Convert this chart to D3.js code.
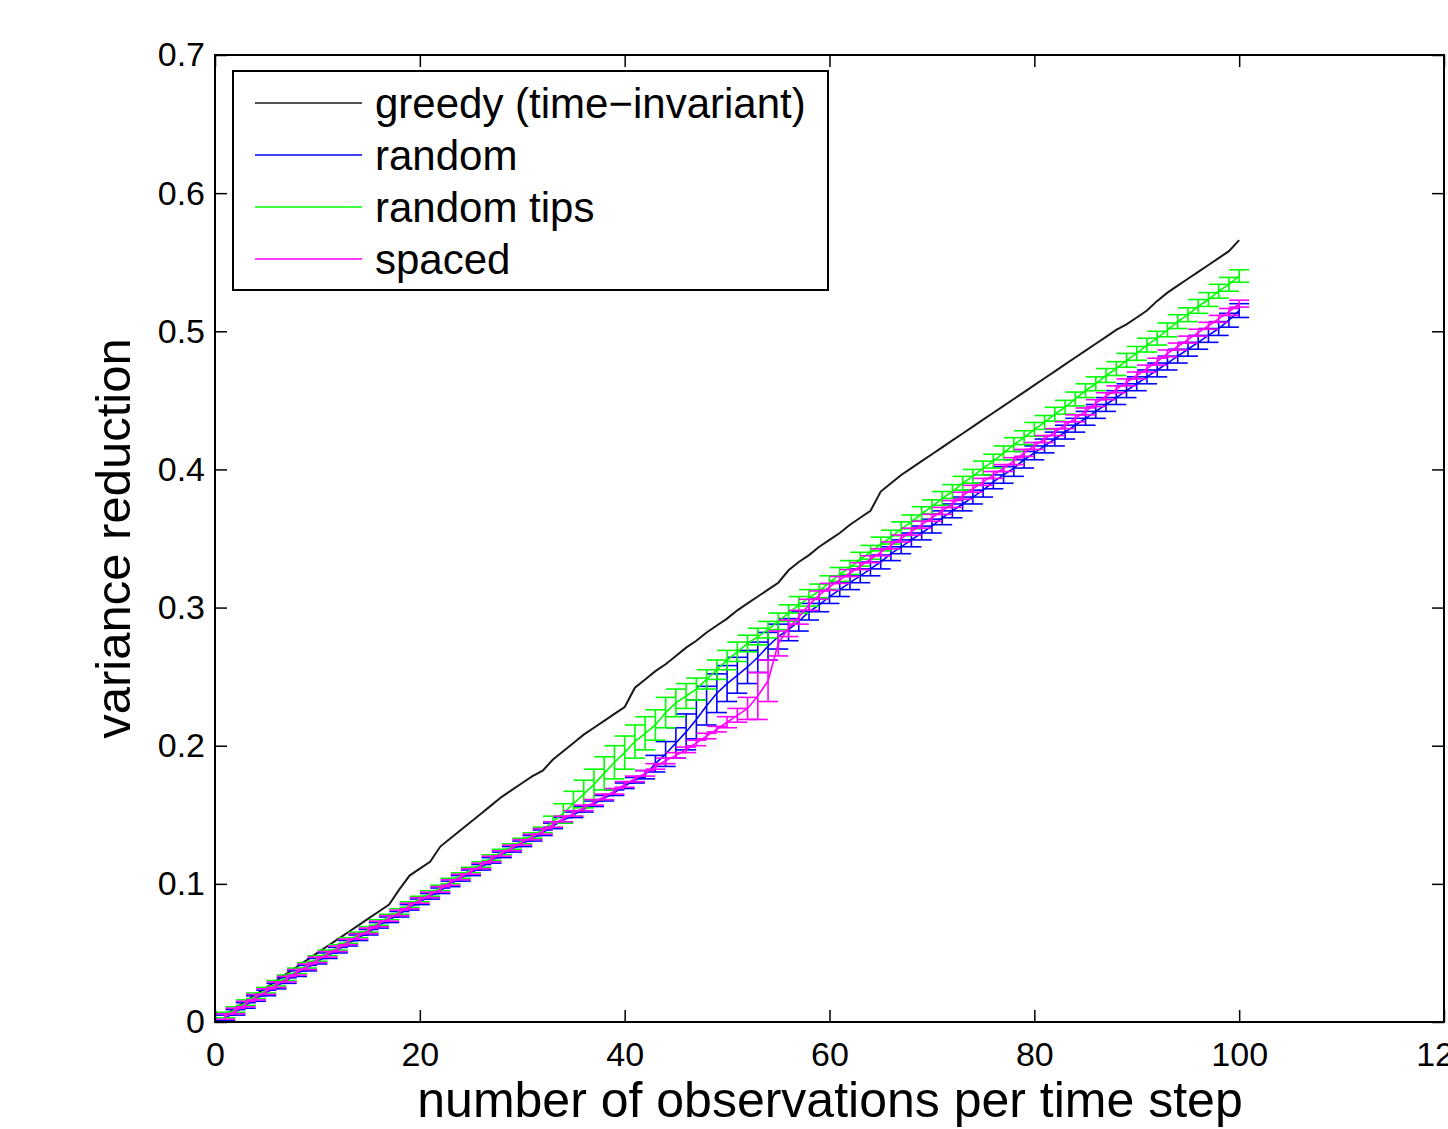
<!DOCTYPE html>
<html>
<head>
<meta charset="utf-8">
<script src="https://cdn.jsdelivr.net/npm/d3@7"></script>
<style>
  html, body { margin: 0; padding: 0; background: #fff; }
  svg { display: block; font-family: "Liberation Sans", Arial, Helvetica, sans-serif; }
</style>
</head>
<body>
<svg id="chart" width="1448" height="1129"></svg>
<script>
// ---------------- DATA ----------------
const observations = d3.range(1, 101); // x: 1..100

const greedy = [
  0.005,0.010,0.015,0.020,0.025,0.030,0.035,0.040,0.045,0.050,
  0.055,0.060,0.065,0.070,0.075,0.080,0.085,0.096,0.106,0.111,
  0.116,0.127,0.133,0.139,0.145,0.151,0.157,0.163,0.168,0.173,
  0.178,0.182,0.190,0.196,0.202,0.208,0.213,0.218,0.223,0.228,
  0.242,0.248,0.254,0.259,0.265,0.271,0.276,0.282,0.287,0.292,
  0.298,0.303,0.308,0.313,0.318,0.327,0.333,0.338,0.344,0.349,
  0.354,0.360,0.365,0.370,0.384,0.390,0.396,0.401,0.406,0.411,
  0.416,0.421,0.426,0.431,0.436,0.441,0.446,0.451,0.456,0.461,
  0.466,0.471,0.476,0.481,0.486,0.491,0.496,0.501,0.505,0.510,
  0.515,0.522,0.528,0.533,0.538,0.543,0.548,0.553,0.558,0.566
];

const random = [
  0.003,0.007,0.012,0.017,0.021,0.026,0.030,0.035,0.039,0.044,
  0.048,0.052,0.057,0.061,0.065,0.070,0.074,0.078,0.083,0.087,
  0.091,0.095,0.100,0.104,0.108,0.112,0.117,0.121,0.125,0.129,
  0.133,0.137,0.142,0.146,0.150,0.154,0.158,0.162,0.166,0.171,
  0.175,0.179,0.187,0.194,0.202,0.210,0.219,0.229,0.238,0.245,
  0.251,0.257,0.264,0.272,0.279,0.284,0.290,0.297,0.302,0.308,
  0.313,0.318,0.323,0.328,0.333,0.339,0.344,0.349,0.354,0.359,
  0.365,0.370,0.375,0.380,0.385,0.391,0.396,0.401,0.407,0.412,
  0.417,0.422,0.427,0.432,0.437,0.442,0.447,0.452,0.457,0.462,
  0.467,0.472,0.477,0.482,0.487,0.492,0.497,0.502,0.508,0.515
];
const randomErr = [
  0.002,0.002,0.002,0.002,0.002,0.002,0.002,0.002,0.002,0.002,
  0.002,0.002,0.002,0.002,0.002,0.002,0.002,0.002,0.002,0.002,
  0.002,0.002,0.002,0.002,0.002,0.002,0.002,0.002,0.002,0.002,
  0.002,0.002,0.002,0.002,0.002,0.002,0.002,0.002,0.002,0.002,
  0.002,0.003,0.006,0.009,0.011,0.013,0.014,0.014,0.014,0.013,
  0.013,0.012,0.011,0.010,0.009,0.008,0.007,0.006,0.005,0.005,
  0.005,0.005,0.005,0.005,0.005,0.005,0.005,0.005,0.005,0.005,
  0.005,0.005,0.005,0.005,0.005,0.005,0.006,0.006,0.006,0.005,
  0.005,0.005,0.005,0.005,0.005,0.005,0.005,0.005,0.005,0.005,
  0.005,0.005,0.005,0.005,0.005,0.005,0.005,0.005,0.005,0.005
];

const randomTips = [
  0.005,0.009,0.014,0.019,0.023,0.028,0.032,0.037,0.041,0.046,
  0.050,0.054,0.059,0.063,0.067,0.072,0.076,0.080,0.085,0.089,
  0.093,0.097,0.102,0.106,0.110,0.114,0.119,0.123,0.127,0.131,
  0.135,0.139,0.145,0.151,0.158,0.165,0.172,0.180,0.188,0.195,
  0.203,0.209,0.215,0.224,0.231,0.236,0.241,0.248,0.255,0.262,
  0.268,0.274,0.279,0.284,0.290,0.296,0.302,0.307,0.312,0.318,
  0.324,0.329,0.335,0.340,0.346,0.351,0.357,0.362,0.368,0.373,
  0.379,0.384,0.390,0.395,0.401,0.406,0.412,0.418,0.423,0.429,
  0.434,0.440,0.445,0.451,0.457,0.462,0.468,0.473,0.479,0.484,
  0.490,0.495,0.501,0.507,0.512,0.518,0.523,0.529,0.534,0.540
];
const randomTipsErr = [
  0.002,0.002,0.002,0.002,0.002,0.002,0.002,0.002,0.002,0.002,
  0.002,0.002,0.002,0.002,0.002,0.002,0.002,0.002,0.002,0.002,
  0.002,0.002,0.002,0.002,0.002,0.002,0.002,0.002,0.002,0.002,
  0.002,0.002,0.004,0.007,0.009,0.010,0.011,0.012,0.012,0.012,
  0.012,0.012,0.011,0.011,0.010,0.009,0.008,0.007,0.007,0.007,
  0.007,0.006,0.006,0.006,0.006,0.006,0.006,0.006,0.005,0.005,
  0.005,0.005,0.005,0.005,0.005,0.005,0.005,0.005,0.005,0.005,
  0.005,0.005,0.005,0.005,0.005,0.005,0.005,0.005,0.005,0.005,
  0.005,0.005,0.005,0.005,0.005,0.005,0.005,0.005,0.005,0.005,
  0.005,0.005,0.005,0.005,0.005,0.005,0.005,0.005,0.005,0.0045
];

const spaced = [
  0.004,0.008,0.013,0.018,0.022,0.027,0.031,0.036,0.040,0.045,
  0.049,0.053,0.058,0.062,0.066,0.071,0.075,0.079,0.084,0.088,
  0.092,0.096,0.101,0.105,0.109,0.113,0.118,0.122,0.126,0.130,
  0.134,0.138,0.143,0.147,0.151,0.155,0.159,0.163,0.167,0.172,
  0.176,0.180,0.185,0.189,0.193,0.197,0.202,0.207,0.212,0.217,
  0.222,0.227,0.236,0.247,0.274,0.285,0.293,0.302,0.309,0.315,
  0.320,0.325,0.330,0.335,0.340,0.345,0.350,0.355,0.360,0.365,
  0.370,0.375,0.381,0.386,0.391,0.396,0.401,0.406,0.412,0.417,
  0.422,0.427,0.432,0.437,0.442,0.448,0.453,0.458,0.463,0.468,
  0.473,0.478,0.484,0.489,0.494,0.499,0.504,0.509,0.514,0.520
];
const spacedErr = [
  0.002,0.002,0.002,0.002,0.002,0.002,0.002,0.002,0.002,0.002,
  0.002,0.002,0.002,0.002,0.002,0.002,0.002,0.002,0.002,0.002,
  0.002,0.002,0.002,0.002,0.002,0.002,0.002,0.002,0.002,0.002,
  0.002,0.002,0.002,0.002,0.002,0.002,0.002,0.002,0.002,0.002,
  0.002,0.002,0.002,0.002,0.002,0.002,0.002,0.002,0.002,0.004,
  0.005,0.008,0.017,0.015,0.009,0.006,0.005,0.004,0.003,0.0025,
  0.0025,0.0025,0.0025,0.0025,0.0025,0.0025,0.0025,0.0025,0.0025,0.0025,
  0.0025,0.0025,0.0025,0.0025,0.0025,0.0025,0.0025,0.0025,0.0025,0.0025,
  0.0025,0.0025,0.0025,0.0025,0.0025,0.0025,0.0025,0.0025,0.0025,0.0025,
  0.0025,0.0025,0.0025,0.0025,0.0025,0.0025,0.0025,0.0025,0.0025,0.0025
];

const xTicks = [0, 20, 40, 60, 80, 100, 120];
const yTicks = [0, 0.1, 0.2, 0.3, 0.4, 0.5, 0.6, 0.7];
const seriesNames = ["greedy (time\u2212invariant)", "random", "random tips", "spaced"];
const seriesColors = ["#1a1a1a", "#0000ff", "#00ff00", "#ff00ff"];

// ---------------- LAYOUT ----------------
const svg = d3.select("#chart");
const L = 215, R = 1444, T = 55, B = 1022;
const x = d3.scaleLinear().domain([0, 120]).range([L, R]);
const y = d3.scaleLinear().domain([0, 0.7]).range([B, T]);
const tickLen = 12;

svg.append("rect").attr("width", 1448).attr("height", 1129).attr("fill", "#fff");

const plot = svg.append("g");

// ---------------- AXES ----------------
const fmtY = d => d === 0 ? "0" : d3.format(".1f")(d);
const axB = d3.axisBottom(x).tickValues(xTicks).tickSize(-tickLen).tickPadding(20).tickFormat(d3.format("d"));
const axT = d3.axisTop(x).tickValues(xTicks).tickSize(-tickLen).tickFormat("");
const axL = d3.axisLeft(y).tickValues(yTicks).tickSize(-tickLen).tickPadding(10).tickFormat(fmtY);
const axR = d3.axisRight(y).tickValues(yTicks).tickSize(-tickLen).tickFormat("");

function styleAxis(g) {
  g.select(".domain").remove();
  g.selectAll(".tick line").attr("stroke", "#000").attr("stroke-width", 1.5);
  g.selectAll("text").attr("fill", "#000").style("font-size", "34px")
    .style("font-family", '"Liberation Sans", Arial, sans-serif');
}
svg.append("g").attr("transform", `translate(0,${B})`).call(axB).call(styleAxis);
svg.append("g").attr("transform", `translate(0,${T})`).call(axT).call(styleAxis);
svg.append("g").attr("transform", `translate(${L},0)`).call(axL).call(styleAxis);
svg.append("g").attr("transform", `translate(${R},0)`).call(axR).call(styleAxis);

// ---------------- SERIES ----------------
const line = d3.line().x((d, i) => x(observations[i])).y(d => y(d));

function drawErrSeries(vals, errs, color) {
  const g = plot.append("g").attr("stroke", color).attr("stroke-width", 1.6).attr("fill", "none");
  const capHalf = 10;
  vals.forEach((v, i) => {
    const cx = x(observations[i]);
    const y1 = y(v - errs[i]), y2 = y(v + errs[i]);
    g.append("line").attr("x1", cx).attr("x2", cx).attr("y1", y1).attr("y2", y2);
    g.append("line").attr("x1", cx - capHalf).attr("x2", cx + capHalf).attr("y1", y1).attr("y2", y1);
    g.append("line").attr("x1", cx - capHalf).attr("x2", cx + capHalf).attr("y1", y2).attr("y2", y2);
  });
  g.append("path").attr("d", line(vals));
}

plot.append("path").attr("d", line(greedy)).attr("fill", "none")
  .attr("stroke", seriesColors[0]).attr("stroke-width", 2);
drawErrSeries(random, randomErr, seriesColors[1]);
drawErrSeries(randomTips, randomTipsErr, seriesColors[2]);
drawErrSeries(spaced, spacedErr, seriesColors[3]);

// frame
svg.append("rect").attr("x", L).attr("y", T).attr("width", R - L).attr("height", B - T)
  .attr("fill", "none").attr("stroke", "#000").attr("stroke-width", 2);

// ---------------- LEGEND ----------------
const leg = svg.append("g");
leg.append("rect").attr("x", 233).attr("y", 71).attr("width", 595).attr("height", 219)
  .attr("fill", "#fff").attr("stroke", "#000").attr("stroke-width", 2);
seriesNames.forEach((name, i) => {
  const ly = 103 + i * 52;
  leg.append("line").attr("x1", 255).attr("x2", 362).attr("y1", ly).attr("y2", ly)
    .attr("stroke", seriesColors[i]).attr("stroke-width", 1.6);
  leg.append("text").attr("x", 375).attr("y", ly + 15).text(name)
    .style("font-size", "42px").attr("fill", "#000");
});

// ---------------- TITLES ----------------
svg.append("text").attr("x", 830).attr("y", 1117).attr("text-anchor", "middle")
  .style("font-size", "50px").text("number of observations per time step");
svg.append("text").attr("transform", `translate(130,${(T + B) / 2}) rotate(-90)`)
  .attr("text-anchor", "middle").style("font-size", "49px").text("variance reduction");
</script>
</body>
</html>
